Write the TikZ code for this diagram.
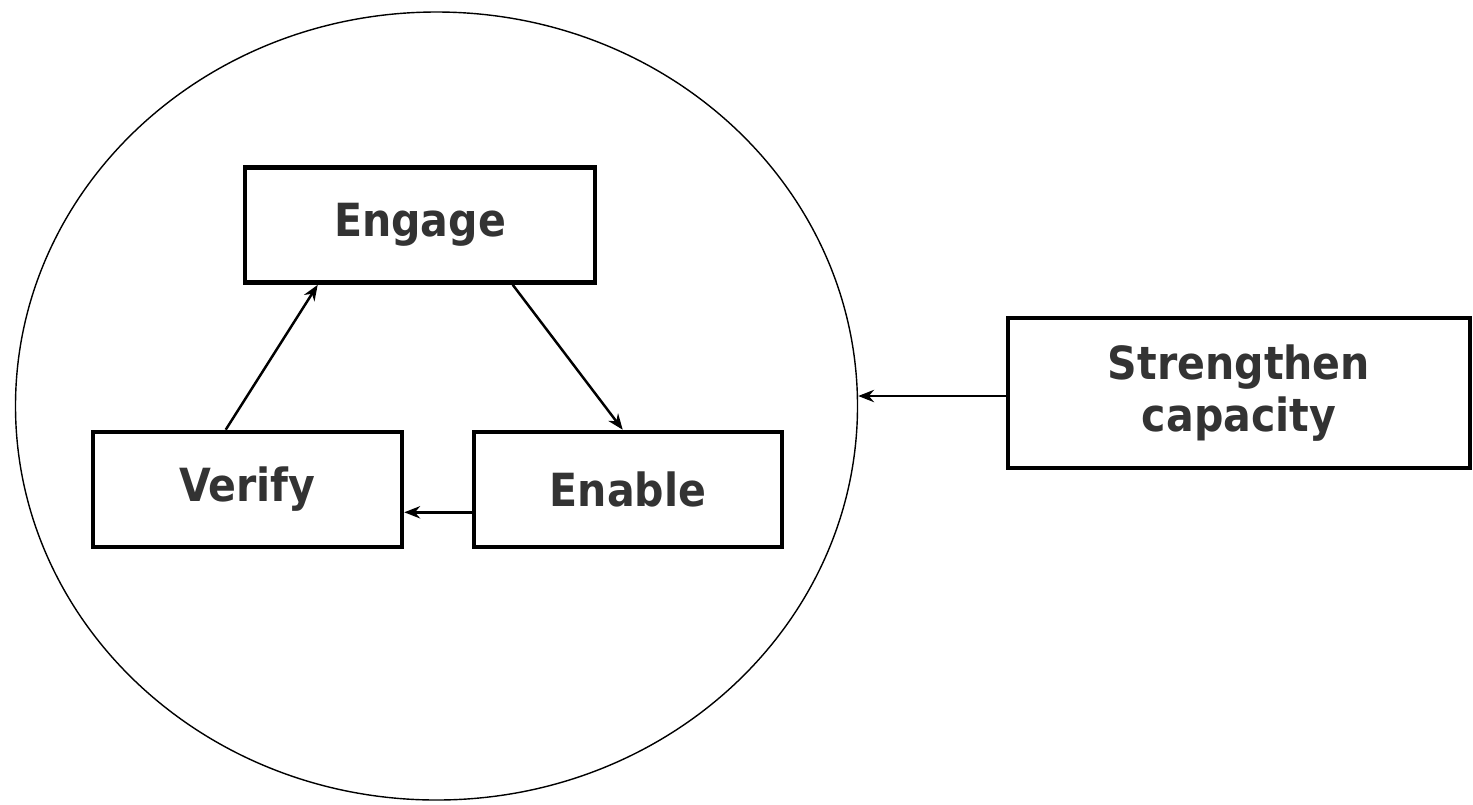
\documentclass[tikz,border=0pt]{standalone}
\usepackage{fontspec}
\setmainfont{DejaVu Sans Condensed}
\usetikzlibrary{arrows.meta, shapes.geometric}

\tikzset{
  stagebox/.style={draw, line width=1.3pt, minimum height=1.15cm, font=\fontsize{13}{15}\selectfont\bfseries, text=black!80, align=center, inner sep=0pt},
  flow/.style={line width=0.7pt, -{Stealth[length=4.5pt,width=3.5pt]}}
}

\begin{document}
\begin{tikzpicture}
\useasboundingbox (0,0) rectangle (14.73,8.04);
%\draw [help lines] (0,0) grid (14,8);

% the cycle
\node[draw, line width=0.4pt, ellipse, minimum width=8.42cm, minimum height=7.88cm, inner sep=0pt] (C0) at (4.365,3.98) {};

\node[stagebox, minimum width=3.5cm] (S0) at (4.20,5.79) {\raisebox{1.5pt}{Engage}};
\node[stagebox, minimum width=3.09cm] (S1) at (2.475,3.145) {\raisebox{1pt}{Verify}};
\node[stagebox, minimum width=3.08cm] (S2) at (6.28,3.145) {Enable};

% outside
\node[stagebox, minimum width=4.62cm, minimum height=1.5cm] (S3) at (12.39,4.11) {Strengthen\\capacity};

% verify to engage
\draw[flow] ([xshift=1.35cm]S1.north west) -- ([xshift=0.75cm]S0.south west);

% engage to enable
\draw[flow] ([xshift=2.7cm]S0.south west) -- ([xshift=1.51cm]S2.north west);

% enable to verify
\draw[flow] ([yshift=0.37cm]S2.south west) -- ([yshift=0.37cm]S1.south east);

% strengthen to the cycle
\coordinate (E0) at ([yshift=-0.03cm]S3.west);
\draw[flow] (E0) -- (E0 -| C0.east);

\end{tikzpicture}
\end{document}
